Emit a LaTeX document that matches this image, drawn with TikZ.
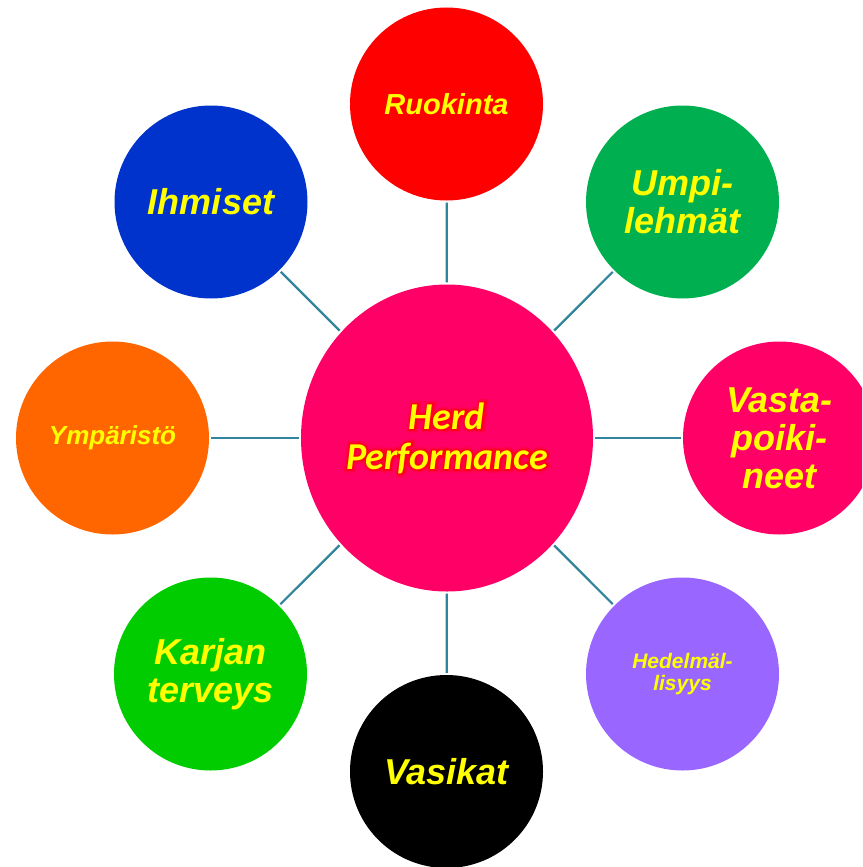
\documentclass[tikz,border=0pt]{standalone}
\usepackage{fontspec}
\setmainfont{Liberation Sans}
\newfontfamily\herdfont{Carlito}
\newfontfamily\herdglowwide[FakeBold=18]{Carlito}
\newfontfamily\herdglownarrow[FakeBold=9]{Carlito}
\usetikzlibrary{shapes.geometric}
\definecolor{cpink}{HTML}{FF0066}
\definecolor{cred}{HTML}{FF0000}
\definecolor{cgreen}{HTML}{00B050}
\definecolor{cviolet}{HTML}{9966FF}
\definecolor{clime}{HTML}{00CC00}
\definecolor{corange}{HTML}{FF6600}
\definecolor{cblue}{HTML}{0033CC}
\definecolor{cyel}{HTML}{FFFF00}
\definecolor{cteal}{HTML}{31849B}
\tikzset{
  ball/.style={circle, minimum size=193pt, inner sep=0pt, text=cyel, align=center},
  lbl/.style={font=\bfseries\itshape\fontsize{36}{38}\selectfont},
  link/.style={draw=cteal, line width=2.2pt, shorten >=2pt, shorten <=2pt},
  herdtxt/.style={align=center, inner sep=0pt},
}
\begin{document}
\begin{tikzpicture}[x=1pt,y=-1pt]
\useasboundingbox (0,0) rectangle (862,867);
\clip (0,0) rectangle (862,867);
\node[ellipse, fill=cpink, minimum width=292pt, minimum height=307pt, inner sep=0pt] (ctr) at (447,438) {};
\node[ball, fill=cred, font=\bfseries\itshape\fontsize{29}{31}\selectfont] (ruo) at (446.5,104) {Ruokinta};
\node[ball, fill=cgreen, lbl] (ump) at (682.5,202) {Umpi-\\lehmät};
\node[ball, fill=cpink, lbl] (vas) at (779.5,438) {Vasta-\\poiki-\\neet};
\node[ball, fill=cviolet, font=\bfseries\itshape\fontsize{21}{22}\selectfont] (hed) at (682.5,674) {Hedelmäl-\\lisyys};
\node[ball, fill=black, lbl] (vsk) at (446.5,771.5) {Vasikat};
\node[ball, fill=clime, lbl] (kar) at (210.5,674) {Karjan\\terveys};
\node[ball, fill=corange, font=\bfseries\itshape\fontsize{26}{28}\selectfont] (ymp) at (112.5,438) {Ympäristö};
\node[ball, fill=cblue, lbl] (ihm) at (211,202) {Ihmiset};
\foreach \t in {ruo,ump,vas,hed,vsk,kar,ymp,ihm}
  \draw[link] (ctr) -- (\t);
\node[herdtxt, text=cred, opacity=0.3, font=\herdglowwide\bfseries\itshape\fontsize{38}{40}\selectfont] (glowwide) at (447,438) {Herd\\Performance};
\node[herdtxt, text=cred, opacity=0.55, font=\herdglownarrow\bfseries\itshape\fontsize{38}{40}\selectfont] (glownarrow) at (447,438) {Herd\\Performance};
\node[herdtxt, text=cyel, font=\herdfont\bfseries\itshape\fontsize{38}{40}\selectfont] (herd) at (447,438) {Herd\\Performance};
\end{tikzpicture}
\end{document}
